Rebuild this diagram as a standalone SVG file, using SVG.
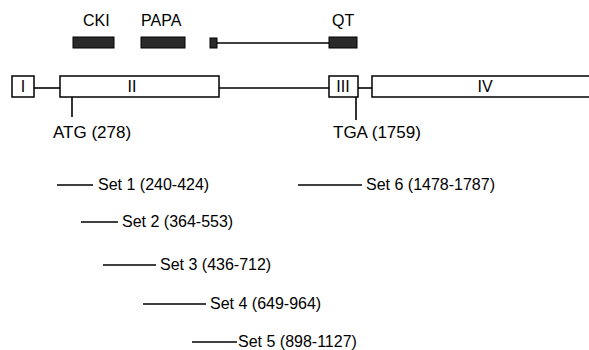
<svg xmlns="http://www.w3.org/2000/svg" width="589" height="350" viewBox="0 0 589 350">
<style>
text{font-family:"Liberation Sans",Arial,sans-serif;fill:#000}
.lbl{font-size:16px}
.big{font-size:17px}
.num{font-size:16px;text-anchor:middle}
.box{fill:#fff;stroke:#000;stroke-width:1.5}
.dom{fill:#2a2a2a;stroke:#000;stroke-width:1}
.ln{stroke:#000;stroke-width:1.6;fill:none}
</style>
<rect width="589" height="350" fill="#fff"/>
<g id="domains">
<g id="cki"><text class="lbl" x="83" y="26">CKI</text><rect class="dom" x="73" y="37" width="41" height="11"/></g>
<g id="papa"><text class="lbl" x="141" y="26">PAPA</text><rect class="dom" x="141" y="37" width="44" height="11"/></g>
<g id="qt"><text class="lbl" x="332" y="26">QT</text><rect class="dom" x="210" y="38" width="7" height="10"/><rect class="dom" x="329" y="37" width="28" height="11"/></g>
</g>
<g id="connectors">
<line class="ln" x1="217" y1="43" x2="329" y2="43"/>
<line class="ln" x1="34" y1="88" x2="60" y2="88"/>
<line class="ln" x1="219" y1="88" x2="329" y2="88"/>
<line class="ln" x1="358" y1="88" x2="372" y2="88"/>
<line class="ln" x1="72" y1="97" x2="72" y2="117"/>
<line class="ln" x1="356" y1="97" x2="356" y2="120"/>
<line class="ln" x1="57" y1="185" x2="93" y2="185"/>
<line class="ln" x1="81" y1="222" x2="118" y2="222"/>
<line class="ln" x1="103" y1="265" x2="156" y2="265"/>
<line class="ln" x1="143" y1="304" x2="206" y2="304"/>
<line class="ln" x1="192" y1="342" x2="237" y2="342"/>
<line class="ln" x1="298" y1="185" x2="362" y2="185"/>
</g>
<g id="exon1"><rect class="box" x="12" y="76" width="22" height="21"/><text class="num" x="23" y="92">I</text></g>
<g id="exon2"><rect class="box" x="60" y="76" width="159" height="21"/><text class="num" x="132" y="92">II</text></g>
<g id="exon3"><rect class="box" x="329" y="76" width="29" height="21"/><text class="num" x="343" y="92">III</text></g>
<g id="exon4"><path class="box" d="M592,76 H372 V97 H592"/><text class="num" x="485" y="92">IV</text></g>
<g id="atg"><text class="big" x="53" y="138">ATG (278)</text></g>
<g id="tga"><text class="big" x="333" y="138">TGA (1759)</text></g>
<g id="set1"><text class="lbl" x="98" y="190">Set 1 (240-424)</text></g>
<g id="set2"><text class="lbl" x="122" y="227">Set 2 (364-553)</text></g>
<g id="set3"><text class="lbl" x="160" y="270">Set 3 (436-712)</text></g>
<g id="set4"><text class="lbl" x="210" y="309">Set 4 (649-964)</text></g>
<g id="set5"><text class="lbl" x="238" y="347">Set 5 (898-1127)</text></g>
<g id="set6"><text class="lbl" x="366" y="190">Set 6 (1478-1787)</text></g>
</svg>
